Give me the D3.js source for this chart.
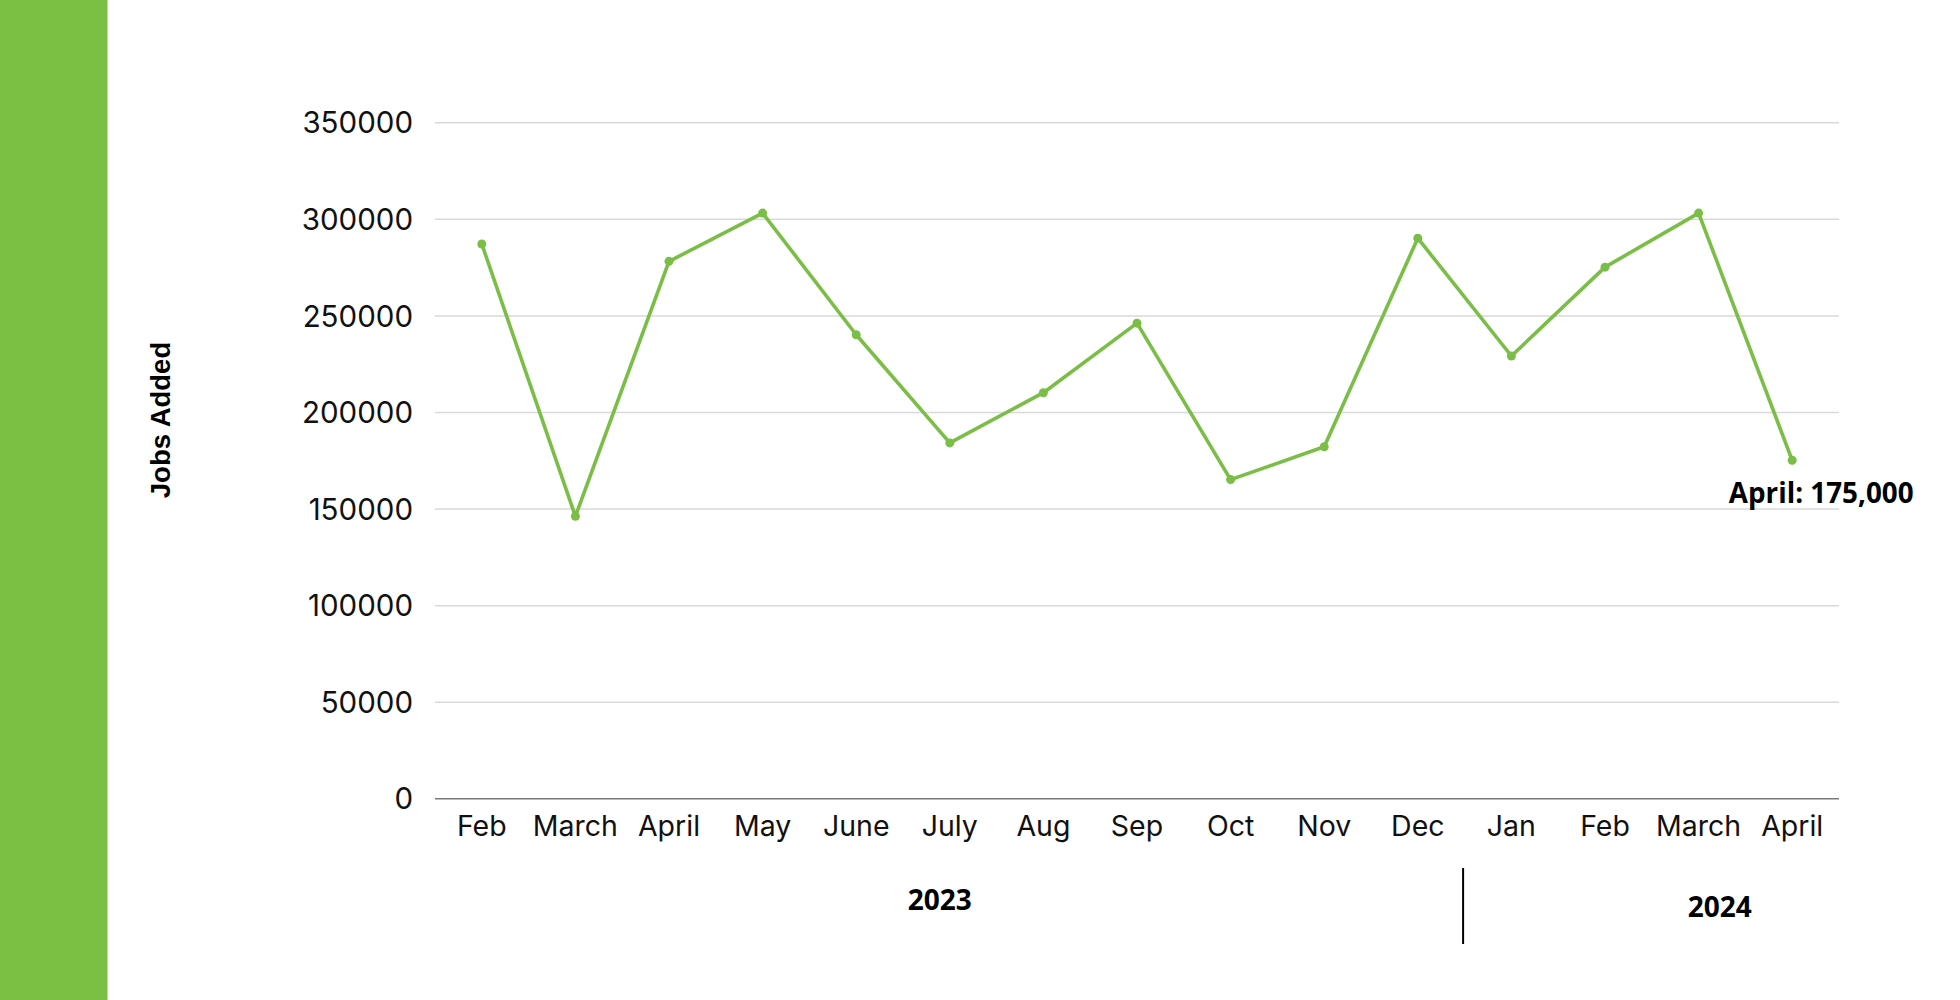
<!DOCTYPE html>
<html>
<head>
<meta charset="utf-8">
<script src="https://cdn.jsdelivr.net/npm/d3@7"></script>
<style>
  html, body { margin: 0; padding: 0; background: #fff; }
  svg { display: block; }
</style>
</head>
<body>
<svg id="chart" width="1960" height="1000"></svg>
<script>
// ---- Data ----
const months = ["Feb", "March", "April", "May", "June", "July", "Aug", "Sep", "Oct", "Nov", "Dec", "Jan", "Feb", "March", "April"];
const years  = ["2023", "2023", "2023", "2023", "2023", "2023", "2023", "2023", "2023", "2023", "2023", "2024", "2024", "2024", "2024"];
const jobsAdded = [287000, 146000, 278000, 303000, 240000, 184000, 210000, 246000, 165000, 182000, 290000, 229000, 275000, 303000, 175000];
const yTicks = [0, 50000, 100000, 150000, 200000, 250000, 300000, 350000];
const yearLabels = ["2023", "2024"];
const yAxisTitle = "Jobs Added";
const annotationText = "April: 175,000";

const data = months.map((m, i) => ({ key: i, month: m, year: years[i], value: jobsAdded[i] }));

(function draw() {
  const svg = d3.select("#chart");
  const pLeft = 435, pRight = 1839, pTop = 122.3, pBottom = 798.3;
  const green = "#7BC043";
  const lineGreen = "#7BBE47";

  // left green band
  svg.append("rect").attr("x", 0).attr("y", 0).attr("width", 107.5).attr("height", 1000).attr("fill", green);

  const x = d3.scaleBand().domain(data.map(d => d.key)).range([pLeft, pRight]).paddingInner(0).paddingOuter(0);
  const y = d3.scaleLinear().domain([0, 350000]).range([pBottom, pTop]);

  // y axis with gridlines
  const yAxis = d3.axisLeft(y).tickValues(yTicks).tickFormat(d3.format("d")).tickSize(-(pRight - pLeft)).tickPadding(22);
  const gy = svg.append("g").attr("transform", `translate(${pLeft},0)`).call(yAxis);
  gy.select(".domain").remove();
  gy.selectAll(".tick line").attr("stroke", d => d === 0 ? "#7a7a7a" : "#d9d9d9").attr("stroke-width", 1.5).attr("x1", 0).attr("x2", pRight - pLeft);
  gy.selectAll(".tick text")
    .attr("font-family", "Inter, 'Open Sans', sans-serif")
    .attr("font-size", 29.5)
    .attr("fill", "#111")
    .attr("dy", "0.36em")
    .attr("x", -22);

  // x axis labels
  const xAxis = d3.axisBottom(x).tickFormat(k => months[k]).tickSize(0).tickPadding(0);
  const gx = svg.append("g").attr("transform", `translate(0,${pBottom})`).call(xAxis);
  gx.select(".domain").remove();
  gx.selectAll(".tick text")
    .attr("font-family", "Inter, 'Open Sans', sans-serif")
    .attr("font-size", 28.5)
    .attr("fill", "#111")
    .attr("dy", null)
    .attr("y", 38);

  // line
  const cx = d => x(d.key) + x.bandwidth() / 2;
  const line = d3.line().x(cx).y(d => y(d.value));
  svg.append("path").datum(data)
    .attr("d", line)
    .attr("fill", "none")
    .attr("stroke", lineGreen)
    .attr("stroke-width", 3.6)
    .attr("stroke-linejoin", "round");

  svg.selectAll("circle.pt").data(data).enter().append("circle")
    .attr("class", "pt")
    .attr("cx", cx)
    .attr("cy", d => y(d.value))
    .attr("r", 4.5)
    .attr("fill", lineGreen);

  // annotation for last point
  const last = data[data.length - 1];
  svg.append("text")
    .attr("x", cx(last) + 29)
    .attr("y", y(last.value) + 43)
    .attr("text-anchor", "middle")
    .attr("font-family", "'Open Sans', sans-serif")
    .attr("font-weight", 700)
    .attr("font-size", 27.8)
    .attr("fill", "#000")
    .text(annotationText);

  // year group labels
  const yearPos = [{ shift: -10, base: 910 }, { shift: 68, base: 916.7 }];
  yearLabels.forEach((yr, gi) => {
    const items = data.filter(d => d.year === yr);
    const x0 = x(items[0].key), x1 = x(items[items.length - 1].key) + x.bandwidth();
    svg.append("text")
      .attr("x", (x0 + x1) / 2 + yearPos[gi].shift)
      .attr("y", yearPos[gi].base)
      .attr("text-anchor", "middle")
      .attr("font-family", "'Open Sans', sans-serif")
      .attr("font-weight", 700)
      .attr("font-size", 28)
      .attr("fill", "#000")
      .text(yr);
  });

  // divider between years
  const firstOf2024 = data.find(d => d.year === "2024");
  svg.append("line")
    .attr("x1", x(firstOf2024.key) - 1.5).attr("x2", x(firstOf2024.key) - 1.5)
    .attr("y1", 868).attr("y2", 944)
    .attr("stroke", "#000").attr("stroke-width", 2);

  // y-axis title
  svg.append("text")
    .attr("transform", "translate(170,420) rotate(-90)")
    .attr("text-anchor", "middle")
    .attr("font-family", "'Liberation Sans', Arial, sans-serif")
    .attr("font-weight", 700)
    .attr("font-size", 27.5)
    .attr("fill", "#000")
    .text(yAxisTitle);
})();
</script>
</body>
</html>
